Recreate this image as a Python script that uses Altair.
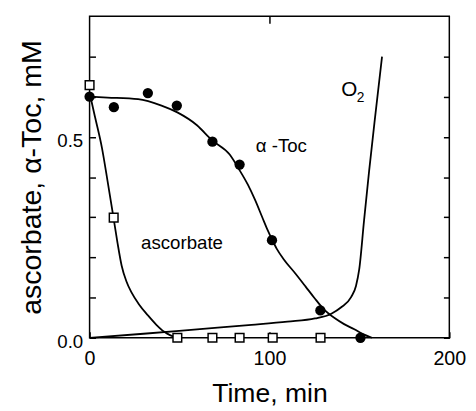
import altair as alt
import pandas as pd

# measured points
toc_time = [0, 13.5, 32.4, 48.5, 68.3, 83.4, 101.4, 128.3, 150.6]
toc_val = [0.600, 0.574, 0.609, 0.578, 0.488, 0.431, 0.243, 0.068, 0.0]
asc_time = [0, 13.4, 48.8, 68.3, 83.4, 101.8, 128.4]
asc_val = [0.629, 0.299, 0.0, 0.0, 0.0, 0.0, 0.0]

# fitted / traced curves
toc_fit_t = [0, 10, 27, 40, 48.8, 59.7, 68, 77.9, 83, 88, 92, 96, 99, 101.4, 104, 108, 114.4, 120, 125, 130, 136.2, 141.5, 147.2, 152, 157]
toc_fit_v = [0.600, 0.598, 0.594, 0.578, 0.561, 0.529, 0.492, 0.456, 0.420, 0.381, 0.343, 0.300, 0.268, 0.245, 0.222, 0.195, 0.160, 0.128, 0.099, 0.072, 0.049, 0.034, 0.021, 0.009, 0.0]
asc_fit_t = [0, 3, 6.9, 10, 13.3, 15.5, 17.8, 20.5, 23.3, 27.5, 32.4, 37, 41.5, 45, 48, 50]
asc_fit_v = [0.610, 0.550, 0.472, 0.390, 0.299, 0.237, 0.180, 0.140, 0.113, 0.083, 0.056, 0.033, 0.015, 0.006, 0.001, 0.0]
o2_t = [0, 30, 59.7, 90, 110, 125.3, 134.4, 139.9, 145.4, 148.1, 149.9, 152.6, 155.4, 159, 162.6]
o2_v = [0.0, 0.010, 0.021, 0.032, 0.040, 0.048, 0.060, 0.076, 0.101, 0.129, 0.170, 0.292, 0.415, 0.560, 0.700]

# annotations
ann_text = ["α -Toc", "ascorbate"]
ann_x = [106.6, 51.4]
ann_y = [0.478, 0.236]
o_text = ["O"]
o_x = [144.4]
o_y = [0.616]
sub_text = ["2"]
sub_x = [150.6]
sub_y = [0.597]

y_ticks = [0.0, 0.1, 0.2, 0.3, 0.4, 0.5, 0.6, 0.7]
x_ticks = [0, 100, 200]
x_top_ticks = [100]

FONT = "Liberation Sans"

curves = pd.concat([
    pd.DataFrame({"series": "toc", "t": toc_fit_t, "v": toc_fit_v}),
    pd.DataFrame({"series": "asc", "t": asc_fit_t, "v": asc_fit_v}),
    pd.DataFrame({"series": "o2", "t": o2_t, "v": o2_v}),
])
toc_df = pd.DataFrame({"t": toc_time, "v": toc_val})
asc_df = pd.DataFrame({"t": asc_time, "v": asc_val})
ann_df = pd.DataFrame({"text": ann_text, "t": ann_x, "v": ann_y})
o_df = pd.DataFrame({"text": o_text, "t": o_x, "v": o_y})
sub_df = pd.DataFrame({"text": sub_text, "t": sub_x, "v": sub_y})

xs = alt.Scale(domain=[0, 200], nice=False, zero=False)
ys = alt.Scale(domain=[0, 0.8], nice=False, zero=False)

lines = alt.Chart(curves).mark_line(color="black", strokeWidth=1.8, interpolate="monotone").encode(
    x=alt.X("t:Q", scale=xs, axis=alt.Axis(
        orient="bottom", values=x_ticks, tickSize=6, offset=-6, domain=False,
        labelFontSize=20, labelPadding=11, title="Time, min", titleFontSize=27,
        titlePadding=13, labelFlush=False)),
    y=alt.Y("v:Q", scale=ys, axis=alt.Axis(
        orient="left", values=y_ticks, tickSize=6, offset=-6, domain=False,
        labelFontSize=19, labelPadding=7, labelOffset=4,
        labelExpr="datum.value == 0 || datum.value == 0.5 ? format(datum.value, '.1f') : ''",
        title="ascorbate,  α-Toc, mM", titleFontSize=29, titlePadding=11)),
    detail="series:N",
)

squares = alt.Chart(asc_df).mark_point(
    shape="square", filled=True, fill="white", stroke="black", strokeWidth=1.5, size=78, opacity=1
).encode(
    x=alt.X("t:Q", scale=xs, axis=alt.Axis(
        orient="top", values=x_top_ticks, tickSize=7, offset=-7, domain=False,
        labels=False, title=None)),
    y=alt.Y("v:Q", scale=ys, axis=alt.Axis(
        orient="right", values=y_ticks, tickSize=6, offset=-6, domain=False,
        labels=False, title=None)),
)

circles = alt.Chart(toc_df).mark_circle(color="black", size=110, opacity=1).encode(
    x=alt.X("t:Q", scale=xs, axis=None),
    y=alt.Y("v:Q", scale=ys, axis=None),
)

ann = alt.Chart(ann_df).mark_text(font=FONT, fontSize=19, color="black", align="center", baseline="middle").encode(
    x=alt.X("t:Q", scale=xs, axis=None),
    y=alt.Y("v:Q", scale=ys, axis=None),
    text="text:N",
)

o_lbl = alt.Chart(o_df).mark_text(font=FONT, fontSize=21, color="black", align="center", baseline="middle").encode(
    x=alt.X("t:Q", scale=xs, axis=None),
    y=alt.Y("v:Q", scale=ys, axis=None),
    text="text:N",
)

sub = alt.Chart(sub_df).mark_text(font=FONT, fontSize=14, color="black", align="center", baseline="middle").encode(
    x=alt.X("t:Q", scale=xs, axis=None),
    y=alt.Y("v:Q", scale=ys, axis=None),
    text="text:N",
)

chart = alt.layer(lines, squares, circles, ann, o_lbl, sub).resolve_axis(
    x="independent", y="independent"
).properties(
    width=366, height=327,
    autosize=alt.AutoSizeParams(type="none"),
    padding={"left": 83, "top": 5, "right": 19, "bottom": 71},
).configure_view(
    stroke="black", strokeWidth=1.5
).configure_axis(
    labelFont=FONT, titleFont=FONT, labelColor="black", titleColor="black",
    tickColor="black", tickWidth=1.5, grid=False, titleFontWeight="normal",
)

chart.save("out.html", embed_options={"renderer": "svg", "actions": False})
